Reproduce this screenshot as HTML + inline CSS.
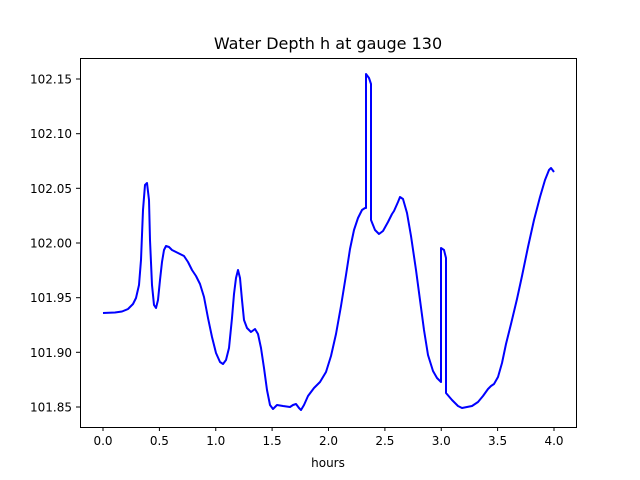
<!DOCTYPE html>
<html><head><style>body{margin:0;background:#fff}svg{display:block}</style></head><body>
<svg width="640" height="480" xmlns="http://www.w3.org/2000/svg" font-family="DejaVu Sans, Liberation Sans, sans-serif">
<rect width="640" height="480" fill="#fff"/>
<text x="328" y="49" font-size="16" text-anchor="middle">Water Depth h at gauge 130</text>
<polyline fill="none" stroke="#0000ff" stroke-width="2" stroke-linejoin="round" points="103,313 115,312.5 122,311.5 128,309 133,304 136,298 139,285 141,260 143,210 145,185 147,183 149,200 150,240 152,285 154,305 156,308 158,300 160,280 162,262 164,250 166,246 169,247 172,250 178,253 184,256 188,262 192,270 196,276 200,284 204,297 208,318 212,337 216,353 220,362 223,364 226,360 229,348 232,318 234,294 236,278 238,270 240,278 242,300 244,320 247,328 251,332 255,329 258,334 261,348 264,368 267,390 270,405 273,409 277,405 283,406 290,407 293,405 296,404 299,408 301,410 304,405 308,396 314,388 320,382 326,372 331,356 336,334 341,306 346,275 350,249 354,230 358,218 362,210 365,208 366,208 366,74 369,78 371,84 371,220 375,230 379,234 383,231 388,222 392,214 394,211 398,202 400,197 403,199 407,213 411,236 416,270 420,300 424,330 428,355 433,371 437,378 441,382 441,248 444,250 446,258 446,393 452,400 458,406 462,408 467,407 472,406 478,402 483,396 488,389 491,386 494,384 498,377 502,363 506,344 511,324 517,299 522,276 528,247 534,220 540,197 545,180 549,170 551,168 554,172"/>
<rect x="80.5" y="58.5" width="496" height="369" fill="none" stroke="#000" stroke-width="1"/>
<g stroke="#000" stroke-width="1">
<line x1="103" y1="427" x2="103" y2="431"/><line x1="159.4" y1="427" x2="159.4" y2="431"/><line x1="215.75" y1="427" x2="215.75" y2="431"/><line x1="272.1" y1="427" x2="272.1" y2="431"/><line x1="328.5" y1="427" x2="328.5" y2="431"/><line x1="384.9" y1="427" x2="384.9" y2="431"/><line x1="441.25" y1="427" x2="441.25" y2="431"/><line x1="497.6" y1="427" x2="497.6" y2="431"/><line x1="554" y1="427" x2="554" y2="431"/>
<line x1="76" y1="79" x2="80" y2="79"/><line x1="76" y1="133.7" x2="80" y2="133.7"/><line x1="76" y1="188.3" x2="80" y2="188.3"/><line x1="76" y1="243" x2="80" y2="243"/><line x1="76" y1="297.7" x2="80" y2="297.7"/><line x1="76" y1="352.3" x2="80" y2="352.3"/><line x1="76" y1="407" x2="76" y2="407"/><line x1="76" y1="407" x2="80" y2="407"/>
</g>
<g font-size="12" text-anchor="middle">
<text x="103" y="445">0.0</text><text x="159.4" y="445">0.5</text><text x="215.75" y="445">1.0</text><text x="272.1" y="445">1.5</text><text x="328.5" y="445">2.0</text><text x="384.9" y="445">2.5</text><text x="441.25" y="445">3.0</text><text x="497.6" y="445">3.5</text><text x="554" y="445">4.0</text>
<text x="328" y="467">hours</text>
</g>
<g font-size="12" text-anchor="end">
<text x="72" y="83.5">102.15</text><text x="72" y="138">102.10</text><text x="72" y="192.8">102.05</text><text x="72" y="247.5">102.00</text><text x="72" y="302">101.95</text><text x="72" y="356.8">101.90</text><text x="72" y="411.5">101.85</text>
</g>
</svg>
</body></html>
